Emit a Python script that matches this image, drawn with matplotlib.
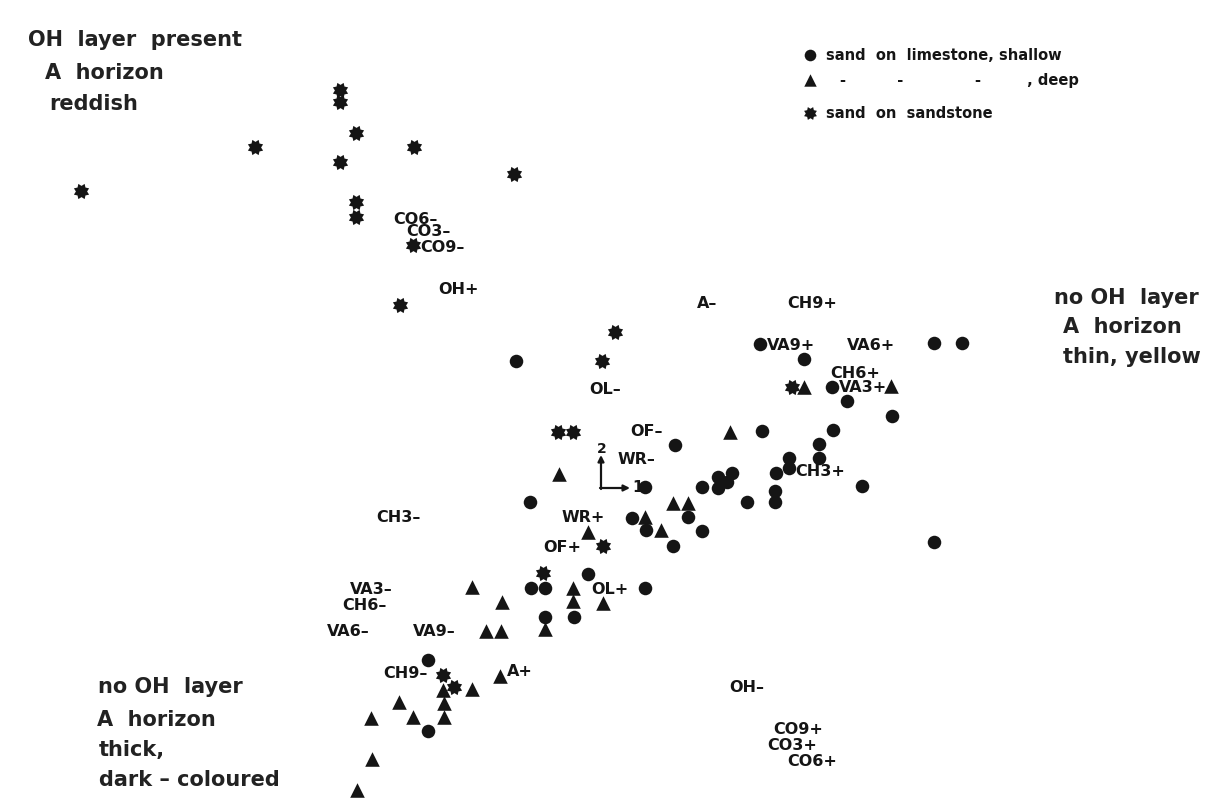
import matplotlib
matplotlib.use("Agg")
import matplotlib.pyplot as plt
import numpy as np
from matplotlib.path import Path

# ---- ordination scores (plot units) ----
shallow_x = [516, 760, 804, 832, 847, 892, 934, 962, 762, 833, 819, 675, 789, 789, 819,
             776, 718, 732, 727, 718, 702, 645, 862, 775, 775, 747, 632, 688, 646, 702,
             673, 530, 588, 531, 545, 645, 545, 574, 428, 428, 934]
shallow_y = [361, 344, 359, 387, 401, 416, 343, 343, 431, 430, 444, 445, 458, 468, 458,
             473, 477, 473, 482, 488, 487, 487, 486, 491, 502, 502, 518, 517, 530, 531,
             546, 502, 574, 588, 588, 588, 617, 617, 660, 731, 542]

deep_x = [730, 804, 891, 559, 673, 688, 645, 661, 588, 573, 573, 603, 502, 545, 472,
          486, 501, 443, 472, 500, 399, 444, 371, 413, 444, 372, 357]
deep_y = [432, 387, 386, 474, 503, 503, 517, 530, 532, 588, 601, 603, 602, 629, 587,
          631, 631, 690, 689, 676, 702, 703, 718, 717, 717, 759, 790]

sandstone_x = [340, 340, 356, 255, 414, 340, 81, 356, 356, 413, 514, 400, 615, 602,
               558, 573, 603, 543, 443, 454, 792]
sandstone_y = [90, 102, 133, 147, 147, 162, 191, 202, 217, 245, 174, 305, 332, 361,
               432, 432, 546, 573, 675, 687, 387]

# ---- environmental variables (label text and score) ----
var_names = ["CO6–", "CO3–", "CO9–", "OH+", "OL–", "A–", "CH9+", "VA9+", "VA6+", "CH6+",
             "VA3+", "CH3+", "OF–", "WR–", "WR+", "OF+", "OL+", "CH3–", "VA3–", "CH6–",
             "VA6–", "VA9–", "CH9–", "A+", "OH–", "CO9+", "CO3+", "CO6+"]
var_x = [393, 406, 420, 438, 589, 697, 787, 767, 847, 830, 839, 795, 630, 618, 562, 543,
         591, 376, 350, 342, 327, 413, 383, 507, 729, 773, 767, 787]
var_y = [219, 232, 247, 290, 390, 303, 303, 346, 346, 373, 387, 472, 432, 460, 517, 547,
         589, 517, 589, 606, 632, 632, 674, 672, 688, 729, 746, 761]

# ---- corner notes ----
notes = [("OH  layer  present", 28, 40), ("A  horizon", 45, 73), ("reddish", 49, 104),
         ("no OH  layer", 1054, 298), ("A  horizon", 1063, 327), ("thin, yellow", 1063, 357),
         ("no OH  layer", 98, 687), ("A  horizon", 97, 720), ("thick,", 99, 750),
         ("dark – coloured", 99, 780)]

ink = "#151515"

# 8-point rosette used in the original for sand-on-sandstone
ang = np.linspace(0, 2 * np.pi, 17)[:-1] + np.pi / 8
rad = np.where(np.arange(16) % 2 == 0, 1.0, 0.68)
verts = np.column_stack([rad * np.cos(ang), rad * np.sin(ang)])
rosette = Path(np.vstack([verts, verts[:1]]), closed=True)

fig = plt.figure(figsize=(12.25, 8.08), dpi=100)
ax = fig.add_axes([0, 0, 1, 1])
ax.set_xlim(0, 1225)
ax.set_ylim(808, 0)
ax.axis("off")

ax.scatter(shallow_x, shallow_y, s=95, marker="o", color=ink, linewidths=0)
ax.scatter(deep_x, deep_y, s=110, marker="^", color=ink, linewidths=0)
ax.scatter(sandstone_x, sandstone_y, s=120, marker=rosette, color=ink, linewidths=0)

lab_font = dict(family=["Liberation Sans Narrow", "DejaVu Sans"], weight="bold",
                fontsize=11.5, color=ink, va="center", ha="left")
for name, x, y in zip(var_names, var_x, var_y):
    ax.text(x, y, name, **lab_font)

# axes arrows of the ordination
ax.annotate("", xy=(601, 455), xytext=(601, 489),
            arrowprops=dict(arrowstyle="-|>", color=ink, lw=1.6, mutation_scale=9,
                            shrinkA=0, shrinkB=0))
ax.annotate("", xy=(630, 488), xytext=(600, 488),
            arrowprops=dict(arrowstyle="-|>", color=ink, lw=1.6, mutation_scale=9,
                            shrinkA=0, shrinkB=0))
ax.text(602, 449, "2", **dict(lab_font, ha="center", fontsize=10))
ax.text(632, 488, "1", **dict(lab_font, fontsize=11))

note_font = dict(family="DejaVu Sans", weight="bold", fontsize=15,
                 color="#222222", va="center", ha="left")
for txt, x, y in notes:
    ax.text(x, y, txt, **note_font)

# legend, drawn like the original key
leg_font = dict(lab_font, fontsize=10.5)
ax.scatter([810], [55], s=70, marker="o", color=ink, linewidths=0)
ax.scatter([810], [80], s=80, marker="^", color=ink, linewidths=0)
ax.scatter([810], [113], s=85, marker=rosette, color=ink, linewidths=0)
ax.text(826, 55, "sand  on  limestone, shallow", **leg_font)
ax.text(840, 81, "-          -              -         , deep", **leg_font)
ax.text(826, 113, "sand  on  sandstone", **leg_font)

fig.savefig("out.png", dpi=100, facecolor="white")
